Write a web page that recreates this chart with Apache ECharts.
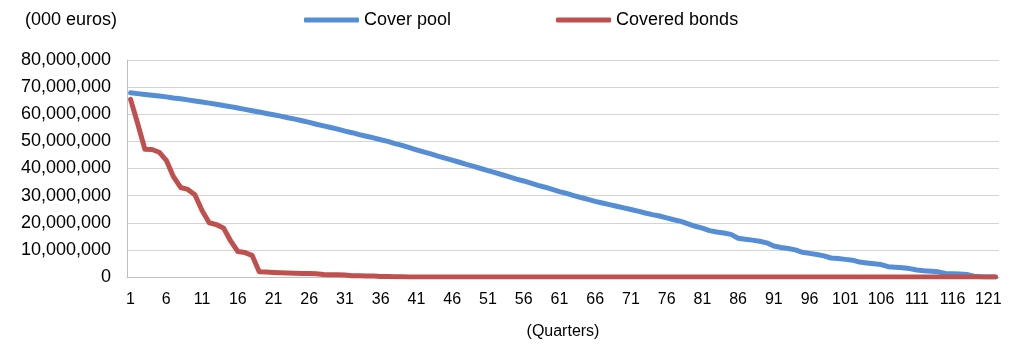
<!DOCTYPE html>
<html>
<head>
<meta charset="utf-8">
<script src="https://cdn.jsdelivr.net/npm/echarts@6/dist/echarts.min.js"></script>
<style>
  html, body { margin: 0; padding: 0; background: #fff; }
  #chart { width: 1019px; height: 345px; }
</style>
</head>
<body>
<div id="chart"></div>
<script>
  // quarters 1..122
  var quarters = [
    '1','2','3','4','5','6','7','8','9','10','11','12','13','14','15','16','17','18','19','20',
    '21','22','23','24','25','26','27','28','29','30','31','32','33','34','35','36','37','38','39','40',
    '41','42','43','44','45','46','47','48','49','50','51','52','53','54','55','56','57','58','59','60',
    '61','62','63','64','65','66','67','68','69','70','71','72','73','74','75','76','77','78','79','80',
    '81','82','83','84','85','86','87','88','89','90','91','92','93','94','95','96','97','98','99','100',
    '101','102','103','104','105','106','107','108','109','110','111','112','113','114','115','116','117','118','119','120',
    '121','122'
  ]
  // 000 euros
  var coverPool = [
    67900000, 67600000, 67300000, 67000000, 66700000, 66400000, 66000000, 65700000, 65300000, 64900000,
    64500000, 64100000, 63700000, 63200000, 62800000, 62300000, 61800000, 61300000, 60800000, 60300000,
    59800000, 59300000, 58700000, 58200000, 57600000, 57000000, 56300000, 55700000, 55100000, 54500000,
    53800000, 53200000, 52500000, 51900000, 51300000, 50600000, 50000000, 49200000, 48500000, 47700000,
    46900000, 46100000, 45400000, 44600000, 43800000, 43100000, 42300000, 41500000, 40800000, 40000000,
    39200000, 38500000, 37700000, 36900000, 36100000, 35400000, 34600000, 33800000, 33100000, 32300000,
    31500000, 30800000, 30000000, 29300000, 28600000, 27900000, 27300000, 26700000, 26100000, 25500000,
    24900000, 24300000, 23600000, 23000000, 22500000, 21800000, 21100000, 20500000, 19600000, 18700000,
    18000000, 17100000, 16600000, 16200000, 15700000, 14300000, 13900000, 13600000, 13200000, 12600000,
    11400000, 10900000, 10500000, 10000000, 9100000, 8700000, 8300000, 7800000, 7000000, 6800000,
    6500000, 6200000, 5500000, 5200000, 4900000, 4600000, 3800000, 3600000, 3400000, 3100000,
    2600000, 2300000, 2100000, 1900000, 1300000, 1200000, 1100000, 900000, 300000, 100000,
    0, 0
  ]
  var coveredBonds = [
    65500000, 56500000, 47100000, 47000000, 46000000, 43000000, 37000000, 33000000, 32300000, 30300000,
    24500000, 20000000, 19300000, 18100000, 13300000, 9400000, 9000000, 8000000, 1900000, 1800000,
    1700000, 1600000, 1500000, 1400000, 1300000, 1250000, 1200000, 900000, 850000, 800000,
    750000, 500000, 450000, 400000, 350000, 200000, 150000, 100000, 50000, 0,
    0, 0, 0, 0, 0, 0, 0, 0, 0, 0,
    0, 0, 0, 0, 0, 0, 0, 0, 0, 0,
    0, 0, 0, 0, 0, 0, 0, 0, 0, 0,
    0, 0, 0, 0, 0, 0, 0, 0, 0, 0,
    0, 0, 0, 0, 0, 0, 0, 0, 0, 0,
    0, 0, 0, 0, 0, 0, 0, 0, 0, 0,
    0, 0, 0, 0, 0, 0, 0, 0, 0, 0,
    0, 0, 0, 0, 0, 0, 0, 0, 0, 0,
    0, 0
  ]

  var font = 'Liberation Sans, Arial, sans-serif'
  var myChart = echarts.init(document.getElementById('chart'))
  myChart.setOption({
    animation: false,
    title: {
      text: '(000 euros)',
      left: 20,
      top: 6,
      textStyle: { fontFamily: font, fontSize: 18, fontWeight: 'normal', color: '#000' }
    },
    legend: {
      left: 299,
      top: 6,
      itemWidth: 55,
      itemHeight: 5,
      itemGap: 105,
      icon: 'roundRect',
      textStyle: { fontFamily: font, fontSize: 18, color: '#000' },
      data: ['Cover pool', 'Covered bonds']
    },
    grid: {
      left: 127,
      right: 20,
      top: 60,
      bottom: 65
    },
    xAxis: {
      type: 'category',
      boundaryGap: true,
      data: quarters,
      name: '(Quarters)',
      nameLocation: 'middle',
      nameGap: 47,
      nameTextStyle: { fontFamily: font, fontSize: 16, color: '#000' },
      axisLine: { lineStyle: { color: '#bfbfbf' } },
      axisTick: { show: false },
      axisLabel: {
        interval: 4,
        margin: 15,
        fontFamily: font,
        fontSize: 16,
        color: '#000'
      }
    },
    yAxis: {
      type: 'value',
      min: 0,
      max: 80000000,
      interval: 10000000,
      axisLine: { show: true, lineStyle: { color: '#bfbfbf' } },
      axisTick: { show: false },
      splitLine: { lineStyle: { color: '#d4d4d4' } },
      axisLabel: {
        margin: 16,
        fontFamily: font,
        fontSize: 18,
        color: '#000',
        formatter: function (v) { return v.toLocaleString('en-US') }
      }
    },
    series: [
      {
        name: 'Cover pool',
        type: 'line',
        data: coverPool,
        symbol: 'none',
        itemStyle: { color: '#558ed5' },
        lineStyle: { width: 5, color: '#558ed5', cap: 'round', join: 'round' }
      },
      {
        name: 'Covered bonds',
        type: 'line',
        data: coveredBonds,
        symbol: 'none',
        itemStyle: { color: '#c0504d' },
        lineStyle: { width: 5, color: '#c0504d', cap: 'round', join: 'round' }
      }
    ]
  })
</script>
</body>
</html>
